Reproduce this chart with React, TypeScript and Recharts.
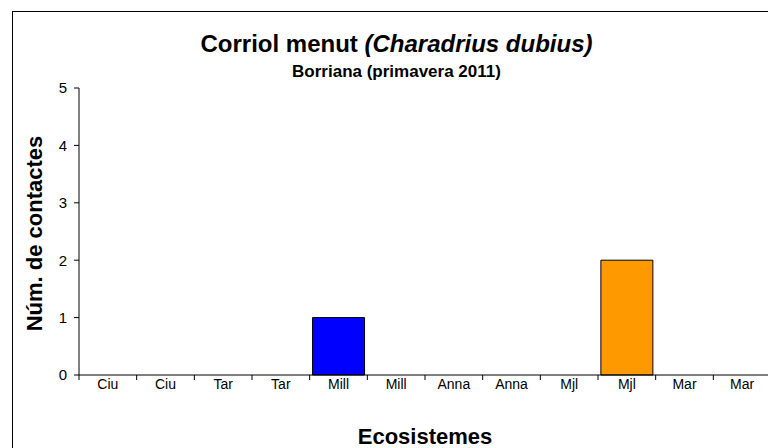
import React from 'react';
import { BarChart, Bar, XAxis, YAxis, Cell } from 'recharts';

const categories = ['Ciu', 'Ciu', 'Tar', 'Tar', 'Mill', 'Mill', 'Anna', 'Anna', 'Mjl', 'Mjl', 'Mar', 'Mar'];
const contacts = [0, 0, 0, 0, 1, 0, 0, 0, 0, 2, 0, 0];
const barColors = ['#00CCFF', '#00CCFF', '#99CC00', '#99CC00', '#0000FF', '#0000FF', '#FF00FF', '#FF00FF', '#FF9900', '#FF9900', '#008080', '#008080'];
const yTicks = [0, 1, 2, 3, 4, 5];

const data = categories.map((c, i) => ({ idx: i, name: c, value: contacts[i] }));

const FONT = '"Liberation Sans", Arial, sans-serif';

function CategoryTick(props: any) {
  const { x, y, payload, index, width, visibleTicksCount } = props;
  const count = visibleTicksCount || categories.length;
  const band = width / count;
  const left = x - band / 2;
  const right = x + band / 2;
  const axisY = y - 4;
  return (
    <g>
      <line x1={left} x2={left} y1={axisY} y2={axisY + 5} stroke="#000" strokeWidth={1} />
      {index === count - 1 && (
        <line x1={right} x2={right} y1={axisY} y2={axisY + 5} stroke="#000" strokeWidth={1} />
      )}
      <text x={x} y={y} dy="0.71em" textAnchor="middle" fill="#000" fontSize={14} fontFamily={FONT}>
        {payload.value}
      </text>
    </g>
  );
}

export default function App() {
  return (
    <div style={{ position: 'relative', width: 768, height: 440, overflow: 'hidden', background: '#fff' }}>
      <div
        style={{
          position: 'absolute',
          left: 4,
          top: 3,
          width: 900,
          height: 600,
          border: '1px solid #000',
          boxSizing: 'border-box',
        }}
      />
      <div style={{ position: 'absolute', left: 0, top: 0 }}>
        <BarChart
          width={768}
          height={440}
          data={data}
          margin={{ top: 80, right: 5, left: 0, bottom: 43 }}
          barCategoryGap="5%"
        >
          <XAxis
            dataKey="name"
            type="category"
            height={30}
            axisLine={{ stroke: '#000' }}
            tickLine={false}
            tickSize={0}
            tickMargin={4}
            interval={0}
            allowDuplicatedCategory
            tick={<CategoryTick />}
          />
          <YAxis
            width={71}
            domain={[0, 5]}
            ticks={yTicks}
            tickSize={5}
            tickMargin={7}
            axisLine={{ stroke: '#000' }}
            tickLine={{ stroke: '#000' }}
            tick={{ fill: '#000', fontSize: 15, fontFamily: FONT }}
          />
          <Bar dataKey="value" stroke="#000" strokeWidth={1} isAnimationActive={false}>
            {data.map((d, i) => (
              <Cell key={i} fill={barColors[i]} />
            ))}
          </Bar>
        </BarChart>
      </div>
      <svg
        width={768}
        height={440}
        style={{ position: 'absolute', left: 0, top: 0, pointerEvents: 'none' }}
      >
        <text x={388.5} y={44} textAnchor="middle" fontFamily={FONT} fontSize={24} fontWeight="bold" fill="#000">
          Corriol menut <tspan fontStyle="italic">(Charadrius dubius)</tspan>
        </text>
        <text x={388.5} y={69} textAnchor="middle" fontFamily={FONT} fontSize={17} fontWeight="bold" fill="#000">
          Borriana (primavera 2011)
        </text>
        <text x={417} y={436} textAnchor="middle" fontFamily={FONT} fontSize={22} fontWeight="bold" fill="#000">
          Ecosistemes
        </text>
        <text
          x={34}
          y={225.5}
          textAnchor="middle"
          transform="rotate(-90 34 225.5)"
          fontFamily={FONT}
          fontSize={22}
          fontWeight="bold"
          fill="#000"
        >
          Núm. de contactes
        </text>
      </svg>
    </div>
  );
}
